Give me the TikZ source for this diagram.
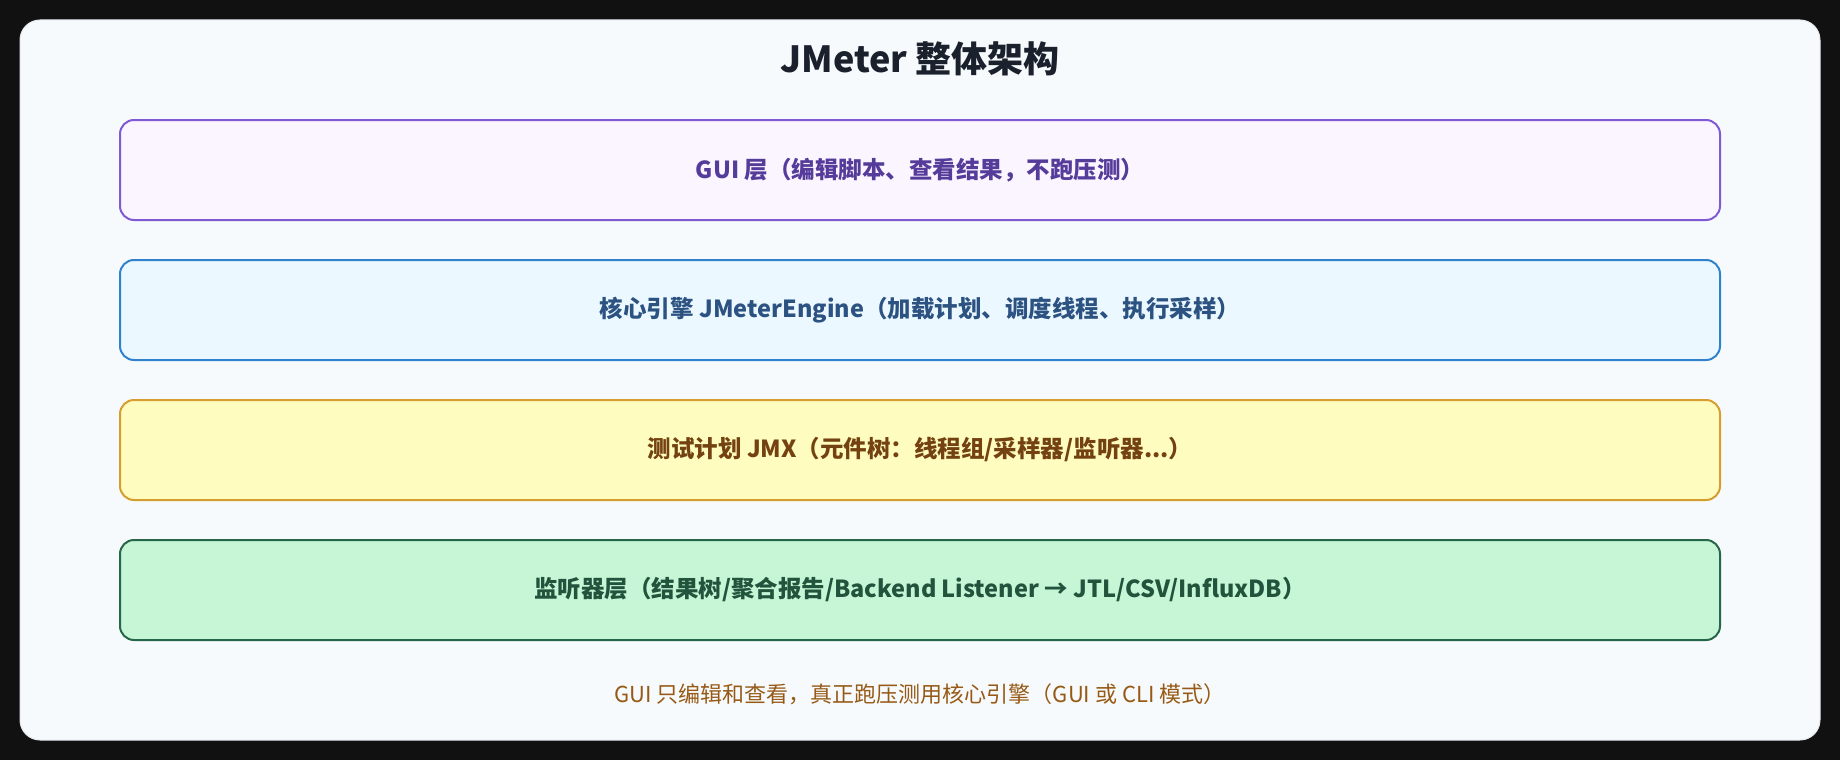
\documentclass[tikz,border=0pt]{standalone}
\usepackage{fontspec}
\setmainfont{Noto Sans CJK SC}
\definecolor{pagebg}{HTML}{111111}
\definecolor{cardbg}{HTML}{F7FAFC}
\definecolor{cardline}{HTML}{E2E8F0}
\definecolor{titlec}{HTML}{1A202C}
\definecolor{purpleline}{HTML}{805AD5}
\definecolor{purplefill}{HTML}{FAF5FF}
\definecolor{purpletext}{HTML}{553C9A}
\definecolor{blueline}{HTML}{3182CE}
\definecolor{bluefill}{HTML}{EBF8FF}
\definecolor{bluetext}{HTML}{2C5282}
\definecolor{yellowline}{HTML}{D69E2E}
\definecolor{yellowfill}{HTML}{FEFCBF}
\definecolor{yellowtext}{HTML}{744210}
\definecolor{greenline}{HTML}{276749}
\definecolor{greenfill}{HTML}{C6F6D5}
\definecolor{greentext}{HTML}{22543D}
\definecolor{notec}{HTML}{975A16}
\tikzset{
  layerbox/.style={draw, line width=2pt, rounded corners=14pt, minimum width=1600pt, minimum height=100pt,
    inner sep=0pt, font=\fontsize{23.5}{28}\selectfont\bfseries},
}
\begin{document}
\begin{tikzpicture}[x=1pt,y=-1pt]
\useasboundingbox (0,0) rectangle (1840,760);
\fill[pagebg] (0,0) rectangle (1840,760);
\draw[cardline, fill=cardbg, line width=1pt, rounded corners=20pt] (20,20) rectangle (1820,740);
\node[text=titlec, font=\fontsize{36}{42}\selectfont\bfseries] (title) at (920,59) {JMeter 整体架构};
\node[layerbox, draw=purpleline, fill=purplefill, text=purpletext] (gui) at (920,170) {GUI 层（编辑脚本、查看结果，不跑压测）};
\node[layerbox, draw=blueline, fill=bluefill, text=bluetext] (engine) at (920,310) {核心引擎 JMeterEngine（加载计划、调度线程、执行采样）};
\node[layerbox, draw=yellowline, fill=yellowfill, text=yellowtext] (plan) at (920,450) {测试计划 JMX（元件树：线程组/采样器/监听器...）};
\node[layerbox, draw=greenline, fill=greenfill, text=greentext] (listen) at (920,590) {监听器层（结果树/聚合报告/Backend Listener → JTL/CSV/InfluxDB）};
\node[text=notec, font=\fontsize{22}{26}\selectfont] (note) at (920,694) {GUI 只编辑和查看，真正跑压测用核心引擎（GUI 或 CLI 模式）};
\end{tikzpicture}
\end{document}
